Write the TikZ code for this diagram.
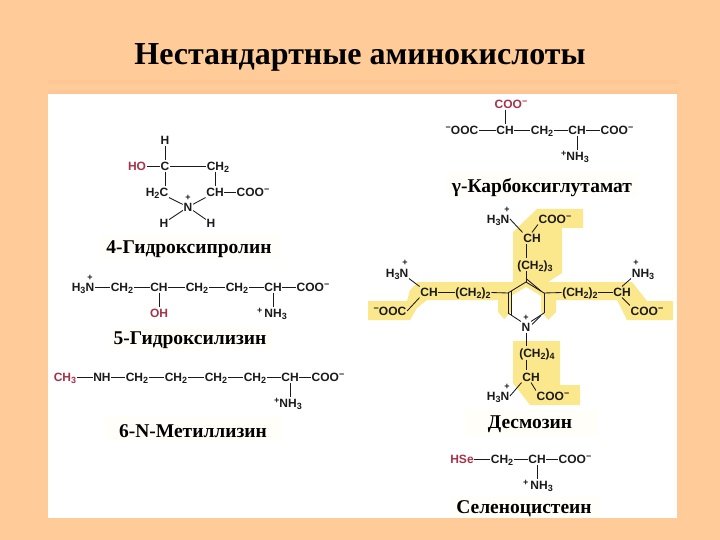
\documentclass[tikz,border=0pt]{standalone}
\usepackage{fontspec}
\setmainfont{Liberation Serif}
\newfontfamily\chemfont{Liberation Sans}
\definecolor{pagebg}{HTML}{FFCC99}
\definecolor{stripe}{HTML}{FCC794}
\definecolor{hilite}{HTML}{FBE78C}
\definecolor{cream}{HTML}{FFFEF8}
\definecolor{chemred}{HTML}{A8324A}
\definecolor{ink}{HTML}{1A1A1A}
\tikzset{
  x=1pt,y=-1pt,
  chem/.style={text=ink,inner sep=0.6pt,text height=9pt,text depth=0.5pt,font=\chemfont\bfseries\fontsize{12}{12}\selectfont},
  red/.style={chem,text=chemred},
  chg/.style={text=ink,inner sep=0pt,font=\chemfont\bfseries\fontsize{9}{9}\selectfont},
  lbl/.style={text=black,inner sep=0pt,font=\bfseries\fontsize{19.5}{20}\selectfont},
  ttl/.style={text=black,inner sep=0pt,font=\bfseries\fontsize{32}{34}\selectfont},
  bond/.style={draw=ink,line width=0.85pt},
  band/.style={fill=cream,draw=none},
  glow/.style={fill=hilite,draw=none}
}
\newcommand{\sbs}[1]{\raisebox{-0.28ex}{\fontsize{9}{9}\selectfont #1}}
\newcommand{\sps}[1]{\raisebox{0.55ex}{\fontsize{9}{9}\selectfont #1}}
\begin{document}
\begin{tikzpicture}
\useasboundingbox (0,0) rectangle (720,540);
\fill[pagebg] (0,0) rectangle (720,540);
\fill[stripe] (48,80) rectangle (679,84);
\fill[stripe] (48,90) rectangle (679,94);
\fill[white] (48,94) rectangle (677,518);
% cream bands
\fill[band] (100,235) rectangle (280,258);
\fill[band] (110,327) rectangle (272,350);
\fill[band] (105,417) rectangle (282,441);
\fill[band] (447,172) rectangle (638,197);
\fill[band] (465,410) rectangle (598,436);
\fill[band] (452,497) rectangle (600,518);
% yellow
\fill[glow] (513,232) -- (537,209) -- (583,209) -- (583,228) -- (562,228) -- (562,273) -- (545,284) -- (513,284) -- cycle;
\fill[glow] (368,301) -- (407,301) -- (410,290) -- (418,282) -- (497,282) -- (632,282) -- (647,301) -- (673,301) -- (673,320) -- (627,320) -- (617,300) -- (556,300) -- (556,312) -- (548,320) -- (505,320) -- (498,312) -- (498,300) -- (427,300) -- (417,308) -- (410,320) -- (368,320) -- cycle;
\fill[white] (526,287) -- (541,296) -- (541,312) -- (549,320.5) -- (503,320.5) -- (511,312) -- (511,296) -- cycle;
\fill[glow] (513,341) -- (560,341) -- (560,385) -- (580,385) -- (580,405) -- (530,405) -- (513,383) -- cycle;
% title
\node[ttl] (title) at (360,57) {Нестандартные аминокислоты};
% hydroxyproline
\node[chem] (hpH) at (165,140) {H};
\node[red] (hpHO) at (137,166) {HO};
\node[chem] (hpC) at (165,166) {C};
\node[chem] (hpCH2) at (218,166) {CH\sbs{2}};
\node[chem] (hpH2C) at (157,192) {H\sbs{2}C};
\node[chem] (hpCH) at (215,192) {CH};
\node[chem] (hpCOO) at (253,192) {COO\sps{−}};
\node[chem] (hpN) at (188,207) {N};
\node[chg] (hpP) at (188,198) {+};
\node[chem] (hpHa) at (164,223) {H};
\node[chem] (hpHb) at (211,223) {H};
\draw[bond] (hpH) -- (hpC);
\draw[bond] (hpHO) -- (hpC);
\draw[bond] (hpC) -- (hpCH2);
\draw[bond] (hpC) -- (hpH2C.north -| hpC);
\draw[bond] (hpCH2.south -| hpCH) -- (hpCH);
\draw[bond] (hpCH) -- (hpCOO);
\draw[bond] (hpH2C.south east) -- (hpN);
\draw[bond] (hpCH.south west) -- (hpN);
\draw[bond] (hpN) -- (hpHa);
\draw[bond] (hpN) -- (hpHb);
\node[lbl] (l1) at (189,249) {4-Гидроксипролин};
% hydroxylysine
\node[chem] (hlN) at (83,287) {H\sbs{3}N};
\node[chg] (hlP) at (90,278) {+};
\node[chem] (hlA) at (122,287) {CH\sbs{2}};
\node[chem] (hlB) at (159,287) {CH};
\node[chem] (hlC) at (197,287) {CH\sbs{2}};
\node[chem] (hlD) at (237,287) {CH\sbs{2}};
\node[chem] (hlE) at (273,287) {CH};
\node[chem] (hlF) at (313,287) {COO\sps{−}};
\node[red] (hlO) at (159,313) {OH};
\node[chem] (hlG) at (272,313) {\sps{+}\,NH\sbs{3}};
\draw[bond] (hlN) -- (hlA);
\draw[bond] (hlA) -- (hlB);
\draw[bond] (hlB) -- (hlC);
\draw[bond] (hlC) -- (hlD);
\draw[bond] (hlD) -- (hlE);
\draw[bond] (hlE) -- (hlF);
\draw[bond] (hlB) -- (hlO);
\draw[bond] (hlE) -- (hlG.north -| hlE);
\node[lbl] (l2) at (190,340) {5-Гидроксилизин};
% methyllysine
\node[red] (mA) at (65,377) {CH\sbs{3}};
\node[chem] (mB) at (102,377) {NH};
\node[chem] (mC) at (137,377) {CH\sbs{2}};
\node[chem] (mD) at (176,377) {CH\sbs{2}};
\node[chem] (mE) at (216,377) {CH\sbs{2}};
\node[chem] (mF) at (255,377) {CH\sbs{2}};
\node[chem] (mG) at (290,377) {CH};
\node[chem] (mH) at (328,377) {COO\sps{−}};
\node[chem] (mI) at (288,403) {\sps{+}NH\sbs{3}};
\draw[bond] (mA) -- (mB);
\draw[bond] (mB) -- (mC);
\draw[bond] (mC) -- (mD);
\draw[bond] (mD) -- (mE);
\draw[bond] (mE) -- (mF);
\draw[bond] (mF) -- (mG);
\draw[bond] (mG) -- (mH);
\draw[bond] (mG) -- (mI.north -| mG);
\node[lbl] (l3) at (193,431) {6-N-Метиллизин};
% carboxyglutamate
\node[red] (cgT) at (511,104) {COO\sps{−}};
\node[chem] (cgA) at (462,130) {\sps{−}OOC};
\node[chem] (cgB) at (505,130) {CH};
\node[chem] (cgC) at (542,130) {CH\sbs{2}};
\node[chem] (cgD) at (577,130) {CH};
\node[chem] (cgE) at (617,130) {COO\sps{−}};
\node[chem] (cgF) at (575,156) {\sps{+}NH\sbs{3}};
\draw[bond] (cgT.south -| cgB) -- (cgB);
\draw[bond] (cgA) -- (cgB);
\draw[bond] (cgB) -- (cgC);
\draw[bond] (cgC) -- (cgD);
\draw[bond] (cgD) -- (cgE);
\draw[bond] (cgD) -- (cgF.north -| cgD);
\node[lbl] (l4) at (542,188) {γ-Карбоксиглутамат};
% desmosine top
\node[chem] (dN1) at (498,219) {H\sbs{3}N};
\node[chg] (dP1) at (507,210) {+};
\node[chem] (dC1) at (555,219) {COO\sps{−}};
\node[chem] (dH1) at (532,238) {CH};
\node[chem] (dL1) at (535,265) {(CH\sbs{2})\sbs{3}};
\draw[bond] (dN1.east) -- (dH1.north west);
\draw[bond] (dC1.south west) -- (dH1.north);
\coordinate (rT) at (526,282);
\coordinate (rUL) at (508,293);
\coordinate (rLL) at (508,313);
\coordinate (rUR) at (544,293);
\coordinate (rLR) at (544,313);
\node[chem] (dN) at (526,327) {N};
\node[chg] (dP) at (526,318) {+};
\coordinate (dt2) at (526,244);
\coordinate (dt3) at (526,258);
\draw[bond] (dt2) -- (dt3);
\coordinate (dt4) at (526,271);
\draw[bond] (dt4) -- (rT);
% ring
\draw[bond] (rT) -- (rUL);
\draw[bond] (rUL) -- (rLL);
\draw[bond] ([xshift=3,yshift=2]rUL) -- ([xshift=3,yshift=-2]rLL);
\draw[bond] (rLL) -- (dN.north west);
\draw[bond] (rT) -- (rUR);
\draw[bond] ([yshift=3.5]rT) -- ([xshift=-3,yshift=2]rUR);
\draw[bond] (rUR) -- (rLR);
\draw[bond] (rLR) -- (dN.north east);
\draw[bond] ([xshift=-3,yshift=-2.5]rLR) -- ([xshift=1,yshift=-3]dN.north east);
% left arm
\node[chem] (dN2) at (397,273) {H\sbs{3}N};
\node[chg] (dP2) at (405,263) {+};
\node[chem] (dH2) at (429,292) {CH};
\node[chem] (dL2) at (473,292) {(CH\sbs{2})\sbs{2}};
\node[chem] (dC2) at (390,311) {\sps{−}OOC};
\draw[bond] (dN2.south east) -- (dH2.north west);
\draw[bond] (dC2.east) -- (dH2.south west);
\draw[bond] (dH2) -- (dL2);
\draw[bond] (dL2) -- (rUL);
% right arm
\node[chem] (dN3) at (643,273) {NH\sbs{3}};
\node[chg] (dP3) at (636,263) {+};
\node[chem] (dH3) at (622,292) {CH};
\node[chem] (dL3) at (580,292) {(CH\sbs{2})\sbs{2}};
\node[chem] (dC3) at (647,311) {COO\sps{−}};
\draw[bond] (dN3.south west) -- (dH3.north);
\draw[bond] (dC3.north west) -- (dH3.south);
\draw[bond] (dL3) -- (dH3);
\draw[bond] (rUR) -- (dL3);
% bottom arm
\node[chem] (dL4) at (537,353) {(CH\sbs{2})\sbs{4}};
\node[chem] (dH4) at (531,377) {CH};
\node[chem] (dN4) at (498,396) {H\sbs{3}N};
\node[chg] (dP4) at (507,387) {+};
\node[chem] (dC4) at (553,396) {COO\sps{−}};
\coordinate (db1) at (526,346);
\draw[bond] (dN) -- (db1);
\coordinate (db2) at (526,360);
\coordinate (db3) at (526,370);
\draw[bond] (db2) -- (db3);
\draw[bond] (dH4.south west) -- (dN4.east);
\draw[bond] (dH4.south) -- (dC4.north west);
\node[lbl] (l5) at (530,424) {Десмозин};
% selenocysteine
\node[red] (sA) at (462,459) {HSe};
\node[chem] (sB) at (502,459) {CH\sbs{2}};
\node[chem] (sC) at (537,459) {CH};
\node[chem] (sD) at (575,459) {COO\sps{−}};
\node[chem] (sE) at (538,485) {\sps{+}\,NH\sbs{3}};
\draw[bond] (sA) -- (sB);
\draw[bond] (sB) -- (sC);
\draw[bond] (sC) -- (sD);
\draw[bond] (sC) -- (sE.north -| sC);
\node[lbl] (l6) at (524,509) {Селеноцистеин};
\end{tikzpicture}
\end{document}
